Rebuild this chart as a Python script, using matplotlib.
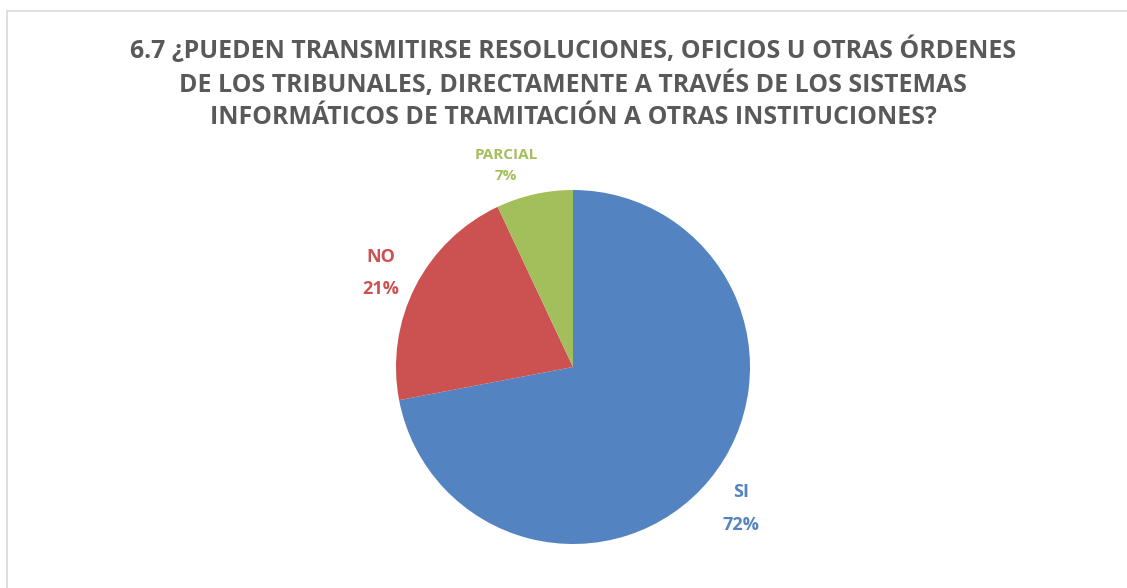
import numpy as np
import matplotlib
matplotlib.use("Agg")
import matplotlib.pyplot as plt
from matplotlib.patches import Rectangle

# data
categories = ["SI", "NO", "PARCIAL"]
values = [72, 21, 7]
colors = ["#5383C0", "#CB5250", "#A3BF5B"]
title = ("6.7 ¿PUEDEN TRANSMITIRSE RESOLUCIONES, OFICIOS U OTRAS ÓRDENES\n"
         "DE LOS TRIBUNALES, DIRECTAMENTE A TRAVÉS DE LOS SISTEMAS\n"
         "INFORMÁTICOS DE TRAMITACIÓN A OTRAS INSTITUCIONES?")

plt.rcParams["font.family"] = ["Open Sans", "DejaVu Sans"]

W, H = 1127, 588
fig = plt.figure(figsize=(W / 100, H / 100), dpi=100)

# chart border
fig.patches.append(Rectangle((7 / W, -0.01), 1.2, (H - 11) / H + 0.01,
                             transform=fig.transFigure, fill=False,
                             edgecolor="#d9d9d9", linewidth=1.2))

fig.text(573 / W, 1 - 83 / H, title, ha="center", va="center",
         fontsize=17.9, fontweight="bold", color="#595959", linespacing=1.38)

cx, cy, r = 573, 367, 177
ax = fig.add_axes([(cx - r) / W, (H - cy - r) / H, 2 * r / W, 2 * r / H])
wedges, _ = ax.pie(values, colors=colors, startangle=90, counterclock=False,
                   radius=1.0, wedgeprops=dict(linewidth=0))
ax.set_xlim(-1, 1)
ax.set_ylim(-1, 1)
ax.set_aspect("equal")
ax.axis("off")

# label placement tweaks (Excel "best fit" style)
dists = [1.24, 1.21, 1.20]
shift = [-0.6, 0.9, 5.7]
sizes = [13, 13, 11]
spacing = [2.05, 2.0, 1.65]
for w, lab, v, col, d, s, fs, ls in zip(wedges, categories, values, colors,
                                         dists, shift, sizes, spacing):
    ang = np.deg2rad((w.theta1 + w.theta2) / 2 + s)
    ax.text(d * np.cos(ang), d * np.sin(ang), f"{lab}\n{v}%", ha="center",
            va="center", color=col, fontsize=fs, fontweight="bold",
            linespacing=ls)

fig.savefig("out.png", dpi=100)
